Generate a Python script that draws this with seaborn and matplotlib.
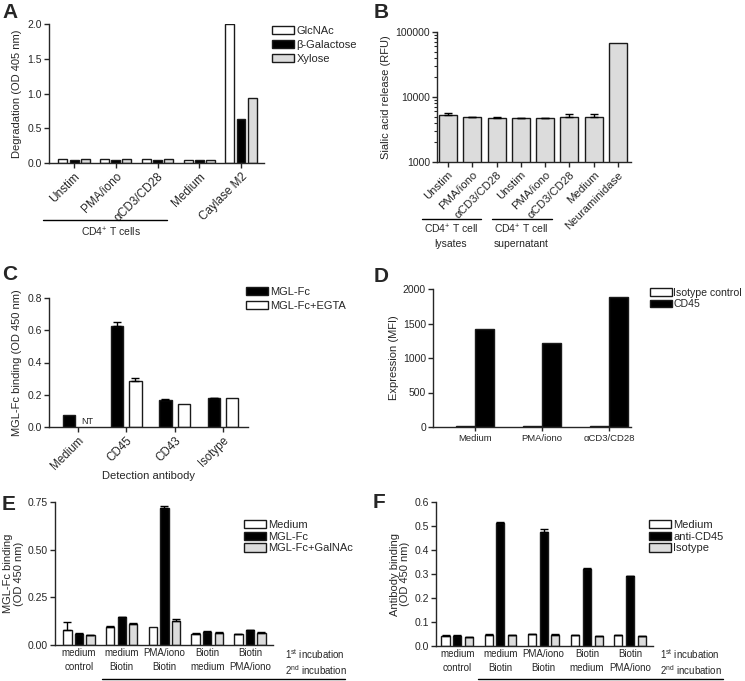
import numpy as np
import pandas as pd
import matplotlib
matplotlib.use("Agg")
import matplotlib.pyplot as plt
from matplotlib.lines import Line2D
from matplotlib.ticker import FixedLocator, FuncFormatter, LogLocator, NullFormatter
import seaborn as sns

sns.set_style("ticks")
plt.rcParams["font.family"] = ["Liberation Sans", "DejaVu Sans"]
plt.rcParams["mathtext.fontset"] = "custom"
plt.rcParams["mathtext.rm"] = "Liberation Sans"
plt.rcParams["mathtext.it"] = "Liberation Sans"
plt.rcParams["axes.linewidth"] = 1.0

# ---------------- data ----------------
A_categories = ["Unstim", "PMA/iono", "αCD3/CD28", "Medium", "Caylase M2"]
A_series = ["GlcNAc", "β-Galactose", "Xylose"]
A_glcnac = [0.057, 0.057, 0.057, 0.048, 2.0]
A_bgal = [0.048, 0.048, 0.048, 0.038, 0.63]
A_xylose = [0.057, 0.055, 0.057, 0.048, 0.93]

B_keys = ["lys_unstim", "lys_pma", "lys_cd3", "sup_unstim", "sup_pma", "sup_cd3", "medium", "neuraminidase"]
B_ticklabels = ["Unstim", "PMA/iono", "αCD3/CD28", "Unstim", "PMA/iono", "αCD3/CD28", "Medium", "Neuraminidase"]
B_values = [5280, 4870, 4800, 4700, 4700, 4980, 4980, 67600]
B_err = [450, 60, 100, 50, 50, 550, 430, 0]

C_categories = ["Medium", "CD45", "CD43", "Isotype"]
C_series = ["MGL-Fc", "MGL-Fc+EGTA"]
C_mgl = [0.074, 0.628, 0.170, 0.178]
C_mgl_err = [0.0, 0.021, 0.003, 0.003]
C_egta = [np.nan, 0.285, 0.143, 0.182]
C_egta_err = [0.0, 0.017, 0.0, 0.0]

D_categories = ["Medium", "PMA/iono", "αCD3/CD28"]
D_series = ["Isotype control", "CD45"]
D_isotype = [10, 10, 10]
D_cd45 = [1417, 1223, 1879]

E_groups = ["medium\ncontrol", "medium\nBiotin", "PMA/iono\nBiotin", "Biotin\nmedium", "Biotin\nPMA/iono"]
E_series = ["Medium", "MGL-Fc", "MGL-Fc+GalNAc"]
E_medium = [0.080, 0.094, 0.096, 0.059, 0.058]
E_medium_err = [0.040, 0.004, 0.0, 0.002, 0.002]
E_mglfc = [0.059, 0.147, 0.719, 0.070, 0.077]
E_mglfc_err = [0.002, 0.002, 0.009, 0.001, 0.002]
E_galnac = [0.054, 0.110, 0.126, 0.063, 0.065]
E_galnac_err = [0.001, 0.003, 0.012, 0.003, 0.002]

F_groups = E_groups
F_series = ["Medium", "anti-CD45", "Isotype"]
F_medium = [0.043, 0.047, 0.048, 0.045, 0.045]
F_medium_err = [0.001, 0.001, 0.001, 0.001, 0.001]
F_cd45 = [0.042, 0.513, 0.475, 0.320, 0.291]
F_cd45_err = [0.002, 0.002, 0.011, 0.003, 0.002]
F_isotype = [0.036, 0.044, 0.047, 0.041, 0.040]
F_isotype_err = [0.001, 0.001, 0.001, 0.001, 0.001]

WHITE, BLACK, GRAY = "#ffffff", "#000000", "#dcdcdc"
EDGE = "#1a1a1a"

W, H = 745, 681
fig = plt.figure(figsize=(W / 100, H / 100), dpi=100)


def ax_at(l, t, r, b):
    return fig.add_axes([l / W, 1 - b / H, (r - l) / W, (b - t) / H])


def long_df(cats, series, arrays):
    rows = []
    for s, arr in zip(series, arrays):
        for c, v in zip(cats, arr):
            rows.append({"cat": c, "series": s, "value": v})
    return pd.DataFrame(rows)


def style(ax, xtick_len=3.5):
    sns.despine(ax=ax)
    ax.tick_params(axis="y", length=3.5, width=1, labelsize=7.5, pad=1.5, direction="out")
    ax.tick_params(axis="x", length=xtick_len, width=1, labelsize=7, pad=2, direction="out")
    ax.set_xlabel("")


def add_err(ax, containers, errs):
    for cont, err in zip(containers, errs):
        for p in cont.patches:
            cx = p.get_x() + p.get_width() / 2
            i = int(round(cx))
            h = p.get_height()
            if err[i] and err[i] > 0 and not np.isnan(h):
                ax.errorbar(cx, h, yerr=[[0], [err[i]]], fmt="none", ecolor="black",
                            elinewidth=1, capsize=3, capthick=1, zorder=5)


def legend(ax, containers, labels, x, y, labelspacing=0.35, fs=8, textpad=0.2, hl=2.0):
    ax.legend(handles=containers, labels=labels, loc="upper left",
              bbox_to_anchor=(x / W, 1 - y / H), bbox_transform=fig.transFigure,
              frameon=False, fontsize=fs, handlelength=hl, handleheight=0.75,
              handletextpad=textpad, labelspacing=labelspacing, borderaxespad=0, borderpad=0)


def hline(x0, x1, y):
    fig.add_artist(Line2D([x0 / W, x1 / W], [1 - y / H, 1 - y / H], transform=fig.transFigure,
                          color="black", lw=1))


def letter(ch, x, y):
    fig.text(x / W, 1 - y / H, ch, fontsize=15, fontweight="bold", va="top", ha="left")


# ---------------- Panel A ----------------
axA = ax_at(49, 24, 264, 163)
dfA = long_df(A_categories, A_series, [A_glcnac, A_bgal, A_xylose])
sns.barplot(data=dfA, x="cat", y="value", hue="series", order=A_categories, hue_order=A_series,
            palette=[WHITE, BLACK, GRAY], saturation=1, edgecolor=EDGE, linewidth=1,
            width=0.8, gap=0.2, errorbar=None, legend=False, ax=axA)
contA = list(axA.containers)
axA.set_ylim(0, 2.0)
axA.set_xlim(-0.6, 4.55)
axA.set_yticks([0, 0.5, 1.0, 1.5, 2.0])
axA.set_ylabel("Degradation (OD 405 nm)", fontsize=8, labelpad=4)
style(axA)
axA.set_xticks(range(len(A_categories)))
axA.set_xticklabels(A_categories, rotation=45, ha="right", rotation_mode="anchor", fontsize=8.5)
legend(axA, contA, A_series, 272, 26)
hline(43, 167, 220)
fig.text(111 / W, 1 - 232 / H, "CD4$^{+}$ T cells", ha="center", va="center", fontsize=7.5)
letter("A", 2, 3)

# ---------------- Panel B ----------------
axB = ax_at(437, 32, 631, 162)
dfB = pd.DataFrame({"cat": B_keys, "value": B_values})
sns.barplot(data=dfB, x="cat", y="value", order=B_keys, color=GRAY, saturation=1,
            edgecolor=EDGE, linewidth=1, width=0.74, errorbar=None, log_scale=True, ax=axB)
contB = list(axB.containers)
axB.set_yscale("log")
axB.set_ylim(1000, 100000)
axB.set_xlim(-0.45, 7.53)
add_err(axB, contB, [B_err])
axB.yaxis.set_major_locator(FixedLocator([1000, 10000, 100000]))
axB.yaxis.set_major_formatter(FuncFormatter(lambda v, p: f"{int(round(v))}"))
axB.yaxis.set_minor_locator(LogLocator(base=10, subs=np.arange(2, 10)))
axB.yaxis.set_minor_formatter(NullFormatter())
axB.set_ylabel("Sialic acid release (RFU)", fontsize=8, labelpad=3)
style(axB)
axB.tick_params(axis="y", which="minor", length=2, width=0.8)
axB.set_xticks(range(len(B_keys)))
axB.set_xticklabels(B_ticklabels, rotation=45, ha="right", rotation_mode="anchor", fontsize=8.2)
hline(422, 481, 219)
hline(492, 552, 219)
fig.text(451 / W, 1 - 236 / H, "CD4$^{+}$ T cell\nlysates", ha="center", va="center",
         fontsize=7.5, linespacing=1.3)
fig.text(521 / W, 1 - 236 / H, "CD4$^{+}$ T cell\nsupernatant", ha="center", va="center",
         fontsize=7.5, linespacing=1.3)
letter("B", 374, 3)

# ---------------- Panel C ----------------
axC = ax_at(49, 298, 248, 427)
dfC = long_df(C_categories, C_series, [C_mgl, C_egta])
sns.barplot(data=dfC, x="cat", y="value", hue="series", order=C_categories, hue_order=C_series,
            palette=[BLACK, WHITE], saturation=1, edgecolor=EDGE, linewidth=1,
            width=0.76, gap=0.33, errorbar=None, legend=False, ax=axC)
contC = list(axC.containers)
axC.set_ylim(0, 0.8)
axC.set_xlim(-0.6, 3.52)
add_err(axC, contC, [C_mgl_err, C_egta_err])
axC.set_yticks([0, 0.2, 0.4, 0.6, 0.8])
axC.set_ylabel("MGL-Fc binding (OD 450 nm)", fontsize=8, labelpad=4)
style(axC)
axC.set_xticks(range(len(C_categories)))
axC.set_xticklabels(C_categories, rotation=45, ha="right", rotation_mode="anchor", fontsize=8.3)
axC.set_xlabel("Detection antibody", fontsize=8, labelpad=-1)
axC.text(0.19, 0.004, "NT", ha="center", va="bottom", fontsize=6.5)
legend(axC, contC, C_series, 246, 287)
letter("C", 2, 265)

# ---------------- Panel D ----------------
axD = ax_at(433, 289, 631, 427)
dfD = long_df(D_categories, D_series, [D_isotype, D_cd45])
sns.barplot(data=dfD, x="cat", y="value", hue="series", order=D_categories, hue_order=D_series,
            palette=[WHITE, BLACK], saturation=1, edgecolor=EDGE, linewidth=1,
            width=0.56, gap=0.0, errorbar=None, legend=False, ax=axD)
contD = list(axD.containers)
axD.set_ylim(0, 2000)
axD.set_xlim(-0.63, 2.33)
axD.set_yticks([0, 500, 1000, 1500, 2000])
axD.set_ylabel("Expression (MFI)", fontsize=8, labelpad=3)
style(axD, xtick_len=3)
axD.set_xticks(range(len(D_categories)))
axD.set_xticklabels(D_categories, fontsize=6.8)
legend(axD, contD, D_series, 650, 288, labelspacing=0.1, fs=7.6, textpad=0.1, hl=2.1)
letter("D", 374, 267)

# ---------------- Panel E ----------------
axE = ax_at(55, 502, 273, 645)
dfE = long_df(E_groups, E_series, [E_medium, E_mglfc, E_galnac])
sns.barplot(data=dfE, x="cat", y="value", hue="series", order=E_groups, hue_order=E_series,
            palette=[WHITE, BLACK, GRAY], saturation=1, edgecolor=EDGE, linewidth=1,
            width=0.81, gap=0.28, errorbar=None, legend=False, ax=axE)
contE = list(axE.containers)
axE.set_ylim(0, 0.75)
axE.set_xlim(-0.56, 4.54)
add_err(axE, contE, [E_medium_err, E_mglfc_err, E_galnac_err])
axE.set_yticks([0, 0.25, 0.5, 0.75])
axE.set_ylabel("MGL-Fc binding\n(OD 450 nm)", fontsize=8, labelpad=3, linespacing=1.1)
style(axE, xtick_len=0)
axE.set_xticks(range(len(E_groups)))
axE.set_xticklabels(E_groups, fontsize=7, linespacing=1.55)
legend(axE, contE, E_series, 244, 520, labelspacing=0.15)
fig.text(285 / W, 1 - 654 / H, "1$^{\\mathrm{st}}$ incubation", ha="left", va="center", fontsize=7)
fig.text(285 / W, 1 - 670 / H, "2$^{\\mathrm{nd}}$ incubation", ha="left", va="center", fontsize=7)
hline(102, 345, 679)
letter("E", 2, 495)

# ---------------- Panel F ----------------
axF = ax_at(436, 502, 653, 646)
dfF = long_df(F_groups, F_series, [F_medium, F_cd45, F_isotype])
sns.barplot(data=dfF, x="cat", y="value", hue="series", order=F_groups, hue_order=F_series,
            palette=[WHITE, BLACK, GRAY], saturation=1, edgecolor=EDGE, linewidth=1,
            width=0.81, gap=0.31, errorbar=None, legend=False, ax=axF)
contF = list(axF.containers)
axF.set_ylim(0, 0.6)
axF.set_xlim(-0.49, 4.53)
add_err(axF, contF, [F_medium_err, F_cd45_err, F_isotype_err])
axF.set_yticks([0, 0.1, 0.2, 0.3, 0.4, 0.5, 0.6])
axF.set_ylabel("Antibody binding\n(OD 450 nm)", fontsize=8, labelpad=3, linespacing=1.1)
style(axF, xtick_len=0)
axF.set_xticks(range(len(F_groups)))
axF.set_xticklabels(F_groups, fontsize=7, linespacing=1.55)
legend(axF, contF, F_series, 649, 520, labelspacing=0.15)
fig.text(660 / W, 1 - 654 / H, "1$^{\\mathrm{st}}$ incubation", ha="left", va="center", fontsize=7)
fig.text(660 / W, 1 - 670 / H, "2$^{\\mathrm{nd}}$ incubation", ha="left", va="center", fontsize=7)
hline(478, 723, 679)
letter("F", 373, 493)

fig.savefig("out.png", dpi=100, facecolor="white")
